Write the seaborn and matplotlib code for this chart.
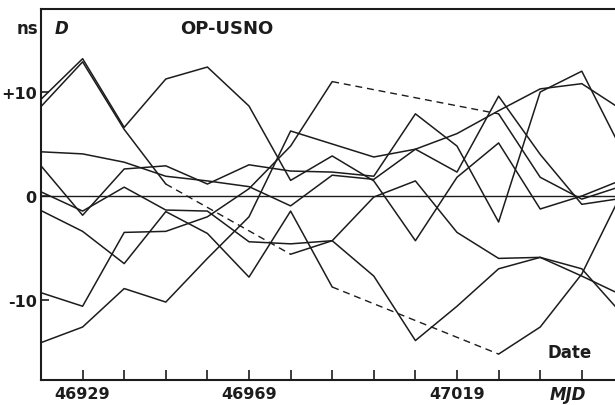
import numpy as np
import pandas as pd
import matplotlib
matplotlib.use("Agg")
import matplotlib.pyplot as plt
import seaborn as sns

# ---- data (ns) ----
mjd = [46919, 46929, 46939, 46949, 46959, 46969, 46979, 46989,
       46999, 47009, 47019, 47029, 47039, 47049, 47059]
nan = np.nan
s1 = [9.3, 13.2, 6.6, 11.25, 12.4, 8.65, 1.5, 3.85, 1.45, -4.3, 1.8, 5.1, -1.25, 0.0, 1.6]
s2 = [8.6, 12.9, 6.4, 1.15, nan, nan, -5.6, -4.3, -7.7, -13.9, -10.6, -7.0, -5.9, -7.7, -9.6]
s3 = [4.25, 4.05, 3.25, 1.9, 1.45, 0.9, -0.95, 2.0, 1.6, 4.5, 2.3, 9.6, 4.0, -0.8, -0.2]
s4 = [2.9, -1.85, 2.6, 2.9, 1.15, 3.0, 2.4, 2.3, 1.9, 7.9, 4.8, -2.5, 10.0, 12.0, 4.1]
s5 = [0.4, -1.45, 0.85, -1.35, -1.45, -4.4, -4.6, -4.3, -0.1, 1.45, -3.5, -6.0, -5.9, -7.0, -11.5]
s6 = [-1.4, -3.4, -6.5, -1.5, -3.6, -7.8, -1.45, -8.75, nan, nan, nan, -15.2, -12.6, -7.5, 0.6]
s7 = [-9.3, -10.6, -3.5, -3.4, -2.0, 0.7, 4.8, 11.0, nan, nan, nan, 7.9, 1.8, -0.3, 1.0]
s8 = [-14.1, -12.6, -8.9, -10.2, -6.0, -2.0, 6.25, 5.0, 3.75, 4.5, 6.0, 8.2, 10.3, 10.8, 8.2]
series = {"1": s1, "2": s2, "3": s3, "4": s4, "5": s5, "6": s6, "7": s7, "8": s8}

xticks = [46929, 46939, 46949, 46959, 46969, 46979, 46989, 46999,
          47009, 47019, 47029, 47039, 47049]
xlabels = ["46929", "", "", "", "46969", "", "", "", "", "47019", "", "", ""]
yticks = [10, 0, -10]
ylabels = ["+10", "0", "-10"]

# ---- build solid runs and dashed bridges over missing dates ----
solid_rows, dash_rows = [], []
for name, vals in series.items():
    seg = 0
    last_valid = None
    in_gap = False
    for x, v in zip(mjd, vals):
        if np.isnan(v):
            if not in_gap:
                seg += 1
                in_gap = True
            continue
        if in_gap and last_valid is not None:
            bid = f"{name}-b{seg}"
            dash_rows.append((bid, last_valid[0], last_valid[1]))
            dash_rows.append((bid, x, v))
        in_gap = False
        solid_rows.append((f"{name}-{seg}", x, v))
        last_valid = (x, v)
solid = pd.DataFrame(solid_rows, columns=["unit", "mjd", "ns"])
dashed = pd.DataFrame(dash_rows, columns=["unit", "mjd", "ns"])

# ---- figure ----
sns.set_style("ticks")
plt.rcParams["font.family"] = ["DejaVu Sans"]
W, H = 615, 406
fig = plt.figure(figsize=(W / 100, H / 100), dpi=100)
ax = fig.add_axes([41 / W, (H - 381) / H, (640 - 41) / W, (381 - 10) / H])

ink = "#1c1c1c"
sns.lineplot(data=solid, x="mjd", y="ns", units="unit", estimator=None,
             sort=False, color=ink, lw=1.1, ax=ax, legend=False)
sns.lineplot(data=dashed, x="mjd", y="ns", units="unit", estimator=None,
             sort=False, color=ink, lw=1.0, linestyle=(0, (5, 3.5)), ax=ax, legend=False)
ax.axhline(0, color=ink, lw=1.0, zorder=1)

ax.set_xlim(46919, 46919 + (640 - 41) / 4.16)
ax.set_ylim(-(381 - 197) / 10.4, (197 - 10) / 10.4)

ax.set_xticks(xticks)
ax.set_xticklabels(xlabels, fontsize=11.5, fontweight="bold")
ax.set_yticks(yticks)
ax.set_yticklabels(ylabels, fontsize=11.5, fontweight="bold")
ax.tick_params(axis="x", direction="in", length=7, width=1.2, pad=4.5, colors=ink)
ax.tick_params(axis="y", direction="in", length=6, width=1.2, pad=3, colors=ink)
ax.set_xlabel("")
ax.set_ylabel("")
for side in ["left", "bottom", "top"]:
    ax.spines[side].set_linewidth(1.5)
    ax.spines[side].set_color(ink)
ax.spines["right"].set_visible(False)

fig.text(38 / W, 1 - 29 / H, "ns", ha="right", va="center",
         fontsize=12, fontweight="bold", color=ink)
fig.text(55 / W, 1 - 29 / H, "D", ha="left", va="center",
         fontsize=12, fontweight="bold", style="italic", color=ink)
fig.text(180 / W, 1 - 29 / H, "OP-USNO", ha="left", va="center",
         fontsize=13, fontweight="bold", color=ink)
fig.text(570 / W, 1 - 353 / H, "Date", ha="center", va="center",
         fontsize=12, fontweight="bold", color=ink)
fig.text(568 / W, 1 - 395 / H, "MJD", ha="center", va="center",
         fontsize=12, fontweight="bold", style="italic", color=ink)

fig.savefig("out.png", dpi=100, facecolor="white")
